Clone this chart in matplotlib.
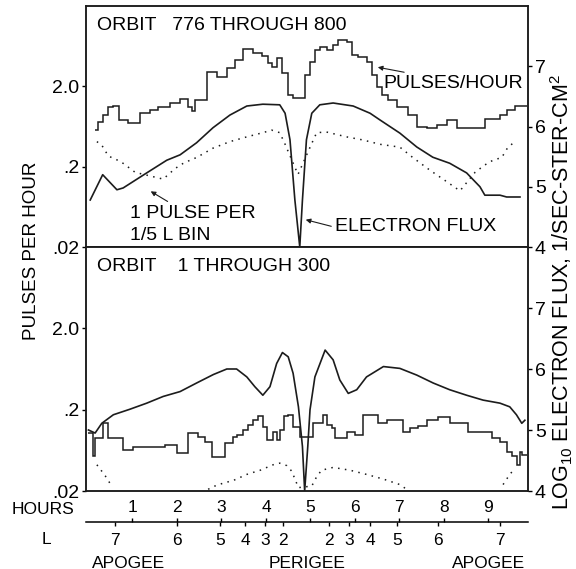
import numpy as np
import matplotlib
matplotlib.use("Agg")
import matplotlib.pyplot as plt
from matplotlib import transforms
from matplotlib.ticker import NullLocator

plt.rcParams["font.family"] = ["Liberation Sans", "DejaVu Sans"]
plt.rcParams["mathtext.fontset"] = "custom"
plt.rcParams["mathtext.rm"] = "Liberation Sans"
plt.rcParams["mathtext.it"] = "Liberation Sans:italic"
plt.rcParams["mathtext.bf"] = "Liberation Sans:bold"

INK = "#1c1c1c"

# x axis is time in hours along the orbit
hour_ticks = [1, 2, 3, 4, 5, 6, 7, 8, 9]
l_pos = [0.61, 1.99, 2.97, 3.54, 3.98, 4.38, 5.42, 5.87, 6.34, 6.94, 7.87, 9.26]
l_labels = ["7", "6", "5", "4", "3", "2", "2", "3", "4", "5", "6", "7"]
orbit_pos = [0.90, 4.92, 9.00]
orbit_names = ["APOGEE", "PERIGEE", "APOGEE"]

# orbit 776 - 800: pulses per hour (histogram bins)
top_edges = [0.16, 0.22, 0.34, 0.45, 0.56, 0.70, 0.90, 1.17, 1.39, 1.57, 1.84, 2.07,
             2.25, 2.34, 2.40, 2.67, 2.90, 3.12, 3.30, 3.48, 3.71, 3.91, 4.04, 4.13,
             4.25, 4.36, 4.49, 4.61, 4.88, 4.99, 5.10, 5.21, 5.37, 5.51, 5.62, 5.82,
             5.93, 6.07, 6.27, 6.38, 6.49, 6.61, 6.74, 6.94, 7.19, 7.39, 7.62, 7.84,
             8.07, 8.29, 8.58, 8.92, 9.26, 9.42, 9.60, 9.87]
top_rate = [0.57, 0.72, 0.88, 1.11, 1.14, 0.76, 0.70, 0.93, 1.02, 1.11, 1.24, 1.39,
            1.11, 0.98, 1.35, 3.02, 2.62, 3.39, 4.27, 5.85, 5.21, 4.79, 3.91, 3.49,
            4.52, 2.94, 1.56, 1.43, 2.77, 4.03, 5.68, 6.19, 5.68, 6.56, 7.57, 7.15,
            4.92, 4.65, 4.03, 2.77, 1.97, 1.56, 1.35, 1.11, 0.88, 0.62, 0.61, 0.66,
            0.76, 0.61, 0.61, 0.79, 0.88, 1.02, 1.14]

# orbit 776 - 800: 1 pulse per 1/5 L bin
top_dot_h = [0.20, 0.31, 0.46, 0.61, 0.79, 1.06, 1.69, 1.96, 2.14, 2.29, 2.44, 2.81,
             3.19, 3.57, 3.93, 4.13, 4.31, 4.43, 4.72, 5.03, 5.14, 5.36, 5.81, 6.18,
             6.56, 7.01, 7.30, 7.69, 7.98, 8.36, 8.70, 8.92, 9.10, 9.30, 9.44, 9.55]
top_dot = [0.41, 0.37, 0.27, 0.25, 0.22, 0.17, 0.14, 0.19, 0.22, 0.24, 0.26, 0.34,
           0.41, 0.47, 0.53, 0.57, 0.53, 0.38, 0.16, 0.39, 0.53, 0.54, 0.47, 0.43,
           0.38, 0.35, 0.26, 0.18, 0.14, 0.10, 0.17, 0.21, 0.24, 0.26, 0.35, 0.39]

# orbit 776 - 800: log10 electron flux
top_flux_h = [0.05, 0.33, 0.65, 0.79, 1.32, 1.77, 2.07, 2.44, 2.81, 3.19, 3.57, 3.93,
              4.31, 4.43, 4.54, 4.65, 4.76, 4.82, 4.91, 5.03, 5.21, 5.51, 5.96, 6.34,
              6.56, 7.01, 7.39, 7.75, 8.13, 8.51, 8.81, 8.92, 9.26, 9.41, 9.71]
top_flux = [4.78, 5.20, 4.95, 4.98, 5.23, 5.44, 5.53, 5.73, 5.98, 6.19, 6.34, 6.37,
            6.36, 6.22, 5.78, 4.78, 4.00, 4.78, 5.78, 6.22, 6.36, 6.39, 6.34, 6.22,
            6.11, 5.89, 5.66, 5.49, 5.39, 5.23, 5.00, 4.86, 4.86, 4.83, 4.83]

# orbit 1 - 300: pulses per hour
bot_edges = [0.00, 0.11, 0.16, 0.34, 0.45, 0.79, 1.01, 1.73, 2.00, 2.25, 2.47, 2.63,
             2.79, 3.08, 3.26, 3.35, 3.48, 3.60, 3.71, 3.82, 3.93, 4.02, 4.16, 4.25,
             4.31, 4.40, 4.49, 4.61, 4.76, 5.06, 5.28, 5.37, 5.48, 5.55, 5.82, 6.00,
             6.18, 6.52, 6.72, 7.08, 7.24, 7.42, 7.62, 7.87, 8.13, 8.54, 9.08, 9.26,
             9.42, 9.53, 9.64, 9.71, 9.75, 9.87]
bot_rate = [0.103, 0.054, 0.090, 0.137, 0.090, 0.064, 0.070, 0.074, 0.059, 0.103,
            0.092, 0.080, 0.052, 0.078, 0.092, 0.098, 0.113, 0.130, 0.149, 0.167,
            0.122, 0.085, 0.106, 0.085, 0.113, 0.167, 0.172, 0.122, 0.092, 0.137,
            0.172, 0.130, 0.119, 0.090, 0.106, 0.098, 0.172, 0.137, 0.149, 0.106,
            0.119, 0.126, 0.149, 0.163, 0.137, 0.106, 0.090, 0.080, 0.060, 0.054,
            0.042, 0.060, 0.055]

# orbit 1 - 300: 1 pulse per 1/5 L bin (nan = below the chart)
bot_dot_h = [0.20, 0.31, 0.42, 0.53, 1.60, 2.70, 2.85, 3.04, 3.27, 3.57, 3.87, 4.16,
             4.31, 4.47, 4.58, 4.73, 5.03, 5.14, 5.25, 5.51, 5.89, 6.26, 6.64, 7.01,
             7.16, 8.20, 9.33, 9.48, 9.60]
bot_dot = [0.042, 0.035, 0.029, 0.023, np.nan, 0.021, 0.023, 0.025, 0.027, 0.032,
           0.036, 0.042, 0.044, 0.041, 0.035, 0.022, 0.023, 0.030, 0.036, 0.039,
           0.036, 0.032, 0.028, 0.024, 0.021, np.nan, 0.024, 0.032, 0.038]

# orbit 1 - 300: log10 electron flux
bot_flux_h = [0.01, 0.16, 0.31, 0.57, 0.94, 1.32, 1.69, 2.07, 2.44, 2.82, 3.12, 3.34,
              3.57, 3.75, 3.93, 4.09, 4.24, 4.37, 4.50, 4.61, 4.73, 4.82, 4.87, 4.94,
              4.99, 5.10, 5.33, 5.51, 5.66, 5.85, 6.04, 6.26, 6.64, 7.01, 7.39, 7.76,
              8.13, 8.51, 8.88, 9.26, 9.48, 9.63, 9.75, 9.82]
bot_flux = [5.00, 4.95, 5.11, 5.25, 5.34, 5.44, 5.55, 5.63, 5.77, 5.91, 6.00, 6.00,
            5.87, 5.71, 5.57, 5.71, 6.09, 6.27, 6.20, 5.93, 5.38, 4.73, 4.00, 4.73,
            5.33, 5.87, 6.31, 6.15, 5.82, 5.60, 5.66, 5.87, 6.04, 6.01, 5.90, 5.77,
            5.66, 5.57, 5.49, 5.44, 5.38, 5.25, 5.11, 5.16]

left_ticks = [0.02, 0.2, 2.0]
left_labels = [".02", ".2", "2.0"]
right_ticks = [4, 5, 6, 7]

XMIN, XMAX = -0.045, 9.89
W, H = 576, 569


def box(x0, y0, x1, y1):
    # pixel box -> figure fraction
    return [x0 / W, 1 - y1 / H, (x1 - x0) / W, (y1 - y0) / H]


def panel(fig, rect, edges, rate, dot_h, dot_v, flux_h, flux_v, title):
    ax = fig.add_axes(rect)
    ax.stairs(rate, edges, color=INK, lw=1.1, baseline=None)
    ax.plot(dot_h, dot_v, color=INK, lw=1.1, ls=(0, (1, 3.5)))
    ax.set_yscale("log")
    ax.set_ylim(0.02, 20)
    ax.set_xlim(XMIN, XMAX)
    ax.set_yticks(left_ticks, left_labels)
    ax.yaxis.set_minor_locator(NullLocator())
    ax.tick_params(axis="y", direction="out", length=3, width=1, labelsize=14, pad=2)
    ax.tick_params(axis="x", bottom=False, labelbottom=False)
    for s in ax.spines.values():
        s.set_linewidth(1.1)
        s.set_color(INK)

    ax2 = ax.twinx()
    ax2.plot(flux_h, flux_v, color=INK, lw=1.2)
    ax2.set_ylim(4, 8)
    ax2.set_yticks(right_ticks)
    ax2.tick_params(axis="y", direction="out", length=3, width=1, labelsize=14, pad=2)
    for s in ax2.spines.values():
        s.set_linewidth(1.1)
        s.set_color(INK)

    ax.text(0.025, 0.92, title, transform=ax.transAxes, fontsize=14, va="center")
    return ax


def main():
    fig = plt.figure(figsize=(5.76, 5.69), dpi=100)

    ax_top = panel(fig, box(86, 6, 528, 247), top_edges, top_rate, top_dot_h, top_dot,
                   top_flux_h, top_flux, "ORBIT   776 THROUGH 800")
    panel(fig, box(86, 247, 528, 491), bot_edges, bot_rate, bot_dot_h, bot_dot,
          bot_flux_h, bot_flux, "ORBIT    1 THROUGH 300")

    # labels with arrows in the upper panel
    arrow = dict(arrowstyle="-|>", color=INK, lw=0.8, mutation_scale=7)
    ax_top.text(0.672, 0.680, "PULSES/HOUR", transform=ax_top.transAxes, fontsize=14, va="center")
    ax_top.annotate("", xy=(0.654, 0.748), xytext=(0.726, 0.723), xycoords="axes fraction",
                    arrowprops=arrow)
    ax_top.text(0.0995, 0.137, "1 PULSE PER", transform=ax_top.transAxes, fontsize=14, va="center")
    ax_top.text(0.0995, 0.046, "1/5 L BIN", transform=ax_top.transAxes, fontsize=14, va="center")
    ax_top.annotate("", xy=(0.141, 0.237), xytext=(0.190, 0.183), xycoords="axes fraction",
                    arrowprops=arrow)
    ax_top.text(0.563, 0.087, "ELECTRON FLUX", transform=ax_top.transAxes, fontsize=14, va="center")
    ax_top.annotate("", xy=(0.491, 0.116), xytext=(0.561, 0.083), xycoords="axes fraction",
                    arrowprops=arrow)

    # hours / L scale under the chart
    ax_l = fig.add_axes(box(86, 521.5, 528, 522))
    ax_l.set_xlim(XMIN, XMAX)
    ax_l.set_ylim(0, 1)
    for s in ("left", "right", "top"):
        ax_l.spines[s].set_visible(False)
    ax_l.spines["bottom"].set_linewidth(1.1)
    ax_l.set_yticks([])
    ax_l.set_xticks(l_pos, l_labels)
    ax_l.tick_params(axis="x", direction="out", length=3, width=1, pad=5, labelsize=12.5)

    ax_hr = ax_l.twiny()
    ax_hr.set_xlim(XMIN, XMAX)
    for s in ax_hr.spines.values():
        s.set_visible(False)
    ax_hr.set_xticks(hour_ticks, [str(h) for h in hour_ticks])
    ax_hr.tick_params(axis="x", direction="out", length=3, width=1, pad=2, labelsize=12.5)

    trans = transforms.blended_transform_factory(ax_l.transData, fig.transFigure)
    for x, name in zip(orbit_pos, orbit_names):
        ax_l.text(x, 1 - 563 / H, name, transform=trans, ha="center", va="center", fontsize=12.5)

    fig.text(12 / W, 1 - 509 / H, "HOURS", fontsize=12.5, va="center", ha="left")
    fig.text(46 / W, 1 - 539 / H, "L", fontsize=12.5, va="center", ha="center")

    fig.text(32 / W, 1 - 251 / H, "PULSES PER HOUR", rotation=90, fontsize=13.5,
             ha="center", va="center")
    fig.text(562 / W, 1 - 292 / H, r"LOG$_{10}$ ELECTRON FLUX, 1/SEC-STER-CM$^2$",
             rotation=90, fontsize=15.5, ha="center", va="center")

    fig.savefig("out.png", dpi=100)


if __name__ == "__main__":
    main()
